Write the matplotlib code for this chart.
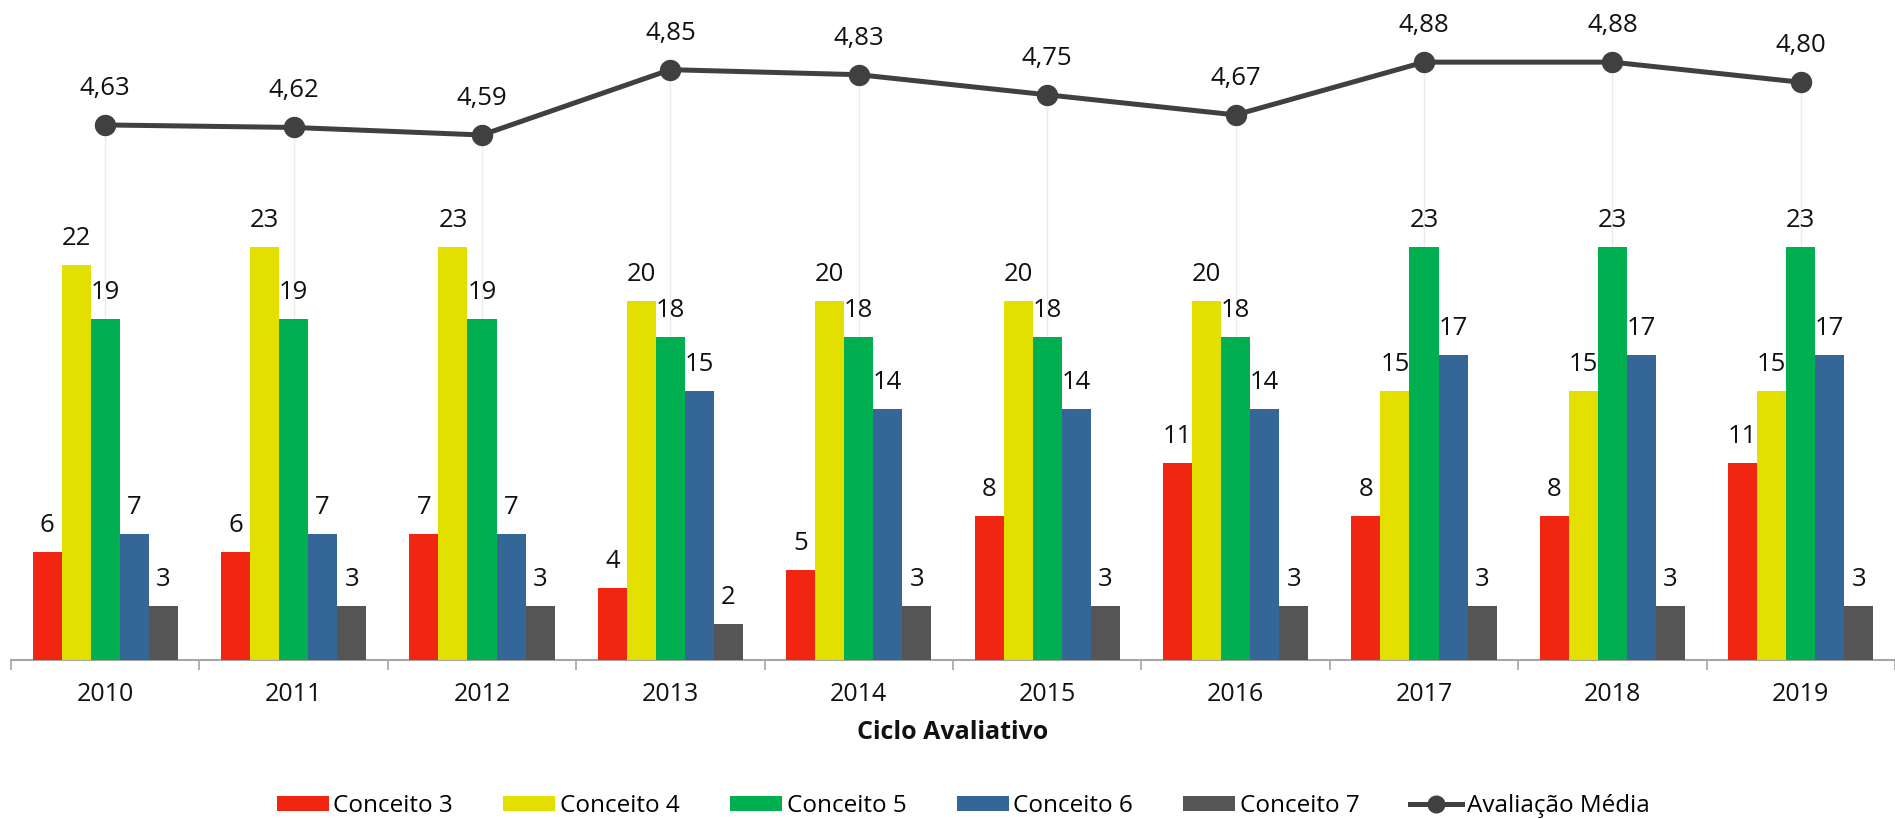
import matplotlib
matplotlib.use("Agg")
import matplotlib.pyplot as plt
from matplotlib.patches import Patch
from matplotlib.lines import Line2D
import numpy as np

plt.rcParams['font.family'] = ['Open Sans', 'DejaVu Sans']

years = ["2010", "2011", "2012", "2013", "2014", "2015", "2016", "2017", "2018", "2019"]
conceito3 = [6, 6, 7, 4, 5, 8, 11, 8, 8, 11]
conceito4 = [22, 23, 23, 20, 20, 20, 20, 15, 15, 15]
conceito5 = [19, 19, 19, 18, 18, 18, 18, 23, 23, 23]
conceito6 = [7, 7, 7, 15, 14, 14, 14, 17, 17, 17]
conceito7 = [3, 3, 3, 2, 3, 3, 3, 3, 3, 3]
media = [4.63, 4.62, 4.59, 4.85, 4.83, 4.75, 4.67, 4.88, 4.88, 4.80]

series_names = ["Conceito 3", "Conceito 4", "Conceito 5", "Conceito 6", "Conceito 7"]
series_vals = [conceito3, conceito4, conceito5, conceito6, conceito7]
colors = ["#F02613", "#E3DF00", "#00B050", "#346698", "#555555"]
line_color = "#404040"
line_name = "Avaliação Média"

W, H = 1895, 819
fig = plt.figure(figsize=(W / 100, H / 100), dpi=100)
ax_left, ax_right = 11 / W, 1895 / W
ax_bot, ax_top = 1 - 660 / H, 1 - 32 / H
ax2 = fig.add_axes([ax_left, ax_bot, ax_right - ax_left, ax_top - ax_bot])
ax = ax2.twinx()
ax.set_zorder(ax2.get_zorder() + 1)
ax.patch.set_visible(False)

x = np.arange(len(years))
bw = 0.154
for i, (name, vals, c) in enumerate(zip(series_names, series_vals, colors)):
    xs = x + (i - 2) * bw
    ax.bar(xs, vals, width=bw, color=c, edgecolor='none', zorder=3)
    for xi, v in zip(xs, vals):
        ax.annotate(str(v), (xi, v), xytext=(0, 14.4), textcoords='offset points',
                    ha='center', va='baseline', fontsize=18.5, color='#111111', zorder=4)

ax.set_ylim(0, 35)
ax2.set_ylim(2.5, 5.0)
ax2.set_xlim(-0.5, len(years) - 0.5)

# drop lines and line series on the back axes
ax2.vlines(x, 2.5, media, color='#EBEBEB', linewidth=1.0, zorder=1)
ax2.plot(x, media, color=line_color, linewidth=3.6, marker='o', markersize=14.4, zorder=2)
for xi, v in zip(x, media):
    ax2.annotate(f"{v:.2f}".replace('.', ','), (xi, v), xytext=(0, 21.6), textcoords='offset points',
                 ha='center', va='baseline', fontsize=18.5, color='#111111')

for a in (ax, ax2):
    for s in ('top', 'right', 'left'):
        a.spines[s].set_visible(False)
    a.set_yticks([])
ax.spines['bottom'].set_visible(False)
ax2.spines['bottom'].set_color('#A6A6A6')
ax2.spines['bottom'].set_linewidth(1.5)
ax2.spines['bottom'].set_zorder(5)

ax2.set_xticks(np.arange(len(years) + 1) - 0.5)
ax2.set_xticklabels([])
ax2.tick_params(axis='x', which='major', length=7, width=1.2, color='#A6A6A6', direction='out')
ax2.set_xticks(x, minor=True)
ax2.set_xticklabels(years, minor=True, fontsize=18, color='#111111')
ax2.tick_params(axis='x', which='minor', length=0, pad=15.6)

fig.text(953 / W, 1 - 739.3 / H, "Ciclo Avaliativo", ha='center', va='baseline',
         fontsize=18, fontweight='bold', color='#111111')

handles = [Patch(facecolor=c, edgecolor='none', label=n) for n, c in zip(series_names, colors)]
handles.append(Line2D([0], [0], color=line_color, linewidth=3.6, marker='o', markersize=12, label=line_name))
fig.legend(handles=handles, loc='center', bbox_to_anchor=(963 / W, 1 - 806 / H), ncol=6,
           frameon=False, fontsize=17.5, handlelength=2.14, handleheight=0.54,
           handletextpad=0.19, columnspacing=2.07, borderpad=0, borderaxespad=0)

fig.savefig("out.png", dpi=100)
